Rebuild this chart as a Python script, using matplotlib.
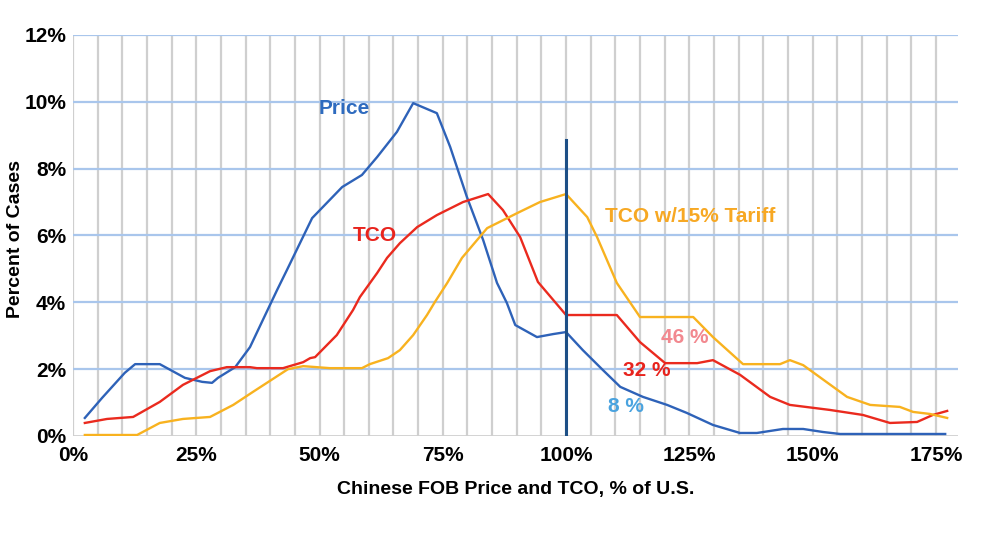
import numpy as np
import matplotlib.pyplot as plt

plt.rcParams['font.family'] = ['Liberation Sans', 'DejaVu Sans']

# values (x = % of U.S., y = percent of cases)
price_x = [2.4, 5.9, 10.5, 12.6, 17.6, 22.7, 26.2, 28.2, 29.4, 32.9, 35.9, 38.5, 41.4, 43.4,
           48.5, 54.6, 58.6, 61.7, 65.7, 69.0, 73.8, 76.5, 79.9, 83.2, 86.0, 88.0, 89.7, 94.1,
           97.4, 100.0, 103.4, 107.5, 111.0, 115.6, 120.5, 124.5, 129.8, 135.3, 138.7, 144.0,
           148.1, 152.1, 155.6, 176.9]
price_y = [0.54, 1.14, 1.89, 2.15, 2.15, 1.74, 1.62, 1.59, 1.74, 2.06, 2.66, 3.47, 4.37, 4.97,
           6.52, 7.45, 7.81, 8.35, 9.10, 9.96, 9.66, 8.65, 7.15, 5.86, 4.58, 3.98, 3.32, 2.96,
           3.05, 3.11, 2.57, 1.97, 1.47, 1.17, 0.93, 0.69, 0.33, 0.09, 0.09, 0.21,
           0.21, 0.12, 0.06, 0.06]

tco_x = [2.4, 6.9, 12.2, 17.6, 22.3, 27.8, 31.2, 35.9, 37.3, 42.6, 46.7, 48.1, 49.1, 53.5,
         56.8, 58.2, 61.7, 63.7, 66.3, 69.8, 73.8, 79.1, 84.2, 87.2, 90.7, 94.3, 100.0, 110.3,
         115.0, 120.1, 126.6, 129.8, 135.3, 141.4, 145.4, 153.5, 160.2, 165.7, 171.2, 174.4, 177.3]
tco_y = [0.39, 0.51, 0.57, 1.02, 1.53, 1.94, 2.06, 2.06, 2.03, 2.03, 2.21, 2.33, 2.36, 3.02,
         3.77, 4.16, 4.88, 5.33, 5.77, 6.25, 6.61, 7.00, 7.24, 6.76, 5.95, 4.61, 3.62, 3.62,
         2.81, 2.18, 2.18, 2.27, 1.83, 1.17, 0.93, 0.78, 0.63, 0.39, 0.42, 0.63, 0.75]

tariff_x = [2.4, 13.0, 17.6, 22.3, 27.8, 32.5, 36.5, 43.6, 46.7, 52.1, 58.6, 60.2, 63.9, 66.3,
            69.0, 71.8, 73.4, 75.9, 78.9, 84.0, 90.1, 94.7, 100.0, 104.3, 106.3, 110.3, 115.0,
            125.8, 129.8, 135.9, 143.4, 145.4, 148.1, 157.0, 161.7, 167.7, 170.4, 173.8, 177.3]
tariff_y = [0.03, 0.03, 0.39, 0.51, 0.57, 0.93, 1.32, 2.00, 2.09, 2.03, 2.03, 2.15, 2.33, 2.57,
            3.02, 3.62, 4.01, 4.58, 5.33, 6.22, 6.67, 7.00, 7.24, 6.55, 5.95, 4.58, 3.56,
            3.56, 2.96, 2.15, 2.15, 2.27, 2.12, 1.17, 0.93, 0.87, 0.72, 0.66, 0.54]

xticks = [0, 25, 50, 75, 100, 125, 150, 175]
yticks = [0, 2, 4, 6, 8, 10, 12]

fig = plt.figure(figsize=(10, 5.38), dpi=100)
ax = fig.add_axes([0.073, 0.1896, 0.885, 0.7454])

# grid
for gx in np.arange(0, 180, 5):
    ax.axvline(gx, color='#cfcfcf', lw=1.6, zorder=0)
for gy in yticks[1:]:
    ax.axhline(gy, color='#a9c6ec', lw=1.6, zorder=1)
ax.axhline(0, color='#cfcfcf', lw=2, zorder=1)

ax.plot(price_x, price_y, color='#2e62b8', lw=1.7, zorder=3)
ax.plot(tco_x, tco_y, color='#ea2a1e', lw=1.7, zorder=3)
ax.plot(tariff_x, tariff_y, color='#f8b21f', lw=1.7, zorder=3)
ax.plot([100, 100], [0, 8.85], color='#1d4f86', lw=2.2, zorder=4)

ax.set_xlim(0, 179.5)
ax.set_ylim(0, 12)
ax.set_xticks(xticks)
ax.set_xticklabels([f'{t}%' for t in xticks])
ax.set_yticks(yticks)
ax.set_yticklabels([f'{t}%' for t in yticks])
ax.tick_params(length=0, labelsize=15, pad=5)
ax.tick_params(axis='x', pad=7)
for lab in ax.get_xticklabels() + ax.get_yticklabels():
    lab.set_fontweight('bold')
for s in ax.spines.values():
    s.set_visible(False)

ax.set_xlabel('Chinese FOB Price and TCO, % of U.S.', fontsize=14, fontweight='bold', labelpad=12)
ax.set_ylabel('Percent of Cases', fontsize=14, fontweight='bold')
ax.yaxis.set_label_coords(-0.055, 0.49)

ax.text(55, 9.8, 'Price', color='#2e6bbf', fontsize=15, fontweight='bold', ha='center', va='center')
ax.text(61.3, 6.0, 'TCO', color='#e8231d', fontsize=15, fontweight='bold', ha='center', va='center')
ax.text(108, 6.58, 'TCO w/15% Tariff', color='#f7a823', fontsize=15, fontweight='bold',
        ha='left', va='center')
ax.text(124.1, 2.96, '46 %', color='#f2888f', fontsize=15, fontweight='bold', ha='center', va='center')
ax.text(116.4, 1.97, '32 %', color='#e8231d', fontsize=15, fontweight='bold', ha='center', va='center')
ax.text(112.2, 0.87, '8 %', color='#4aa3df', fontsize=15, fontweight='bold', ha='center', va='center')

fig.savefig('out.png', dpi=100)
